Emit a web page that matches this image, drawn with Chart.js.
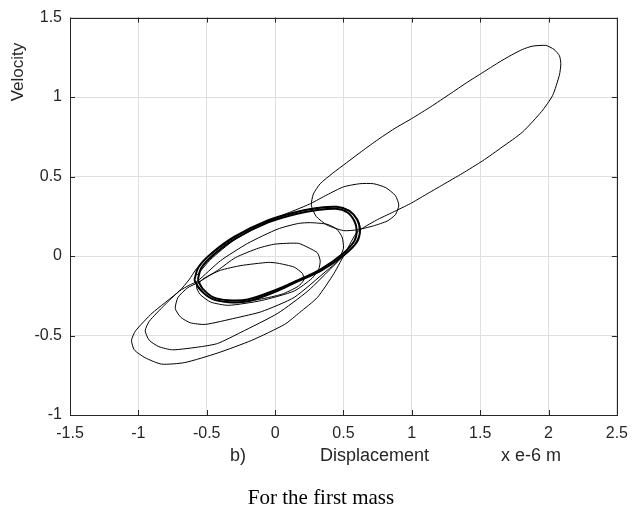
<!DOCTYPE html>
<html>
<head>
<meta charset="utf-8">
<script src="https://cdn.jsdelivr.net/npm/chart.js@4/dist/chart.umd.min.js"></script>
<style>
  html, body { margin: 0; padding: 0; background: #ffffff; }
  #wrap { width: 637px; height: 510px; }
</style>
</head>
<body>
<div id="wrap"><canvas id="phase" width="637" height="510"></canvas></div>
<script>
// Axis ticks
const xTicks = [-1.5, -1, -0.5, 0, 0.5, 1, 1.5, 2, 2.5];
const yTicks = [-1, -0.5, 0, 0.5, 1, 1.5];

// Transient part of the trajectory (displacement in 1e-6 m, velocity)
const transientDisp = [
  -0.57, -0.47, -0.30, -0.10, 0.02, 0.15, 0.26, 0.38, 0.50, 0.62, 0.72, 0.81, 0.88, 0.905, 0.88, 0.82, 0.72, 0.60, 0.50, 0.38, 0.30, 0.265,
  0.28, 0.33, 0.42, 0.52, 0.62, 0.74, 0.87, 1.00, 1.14, 1.28, 1.40, 1.52, 1.63, 1.73, 1.81, 1.88, 1.98, 2.04, 2.08, 2.09, 2.08, 2.03, 1.95, 1.81, 1.66, 1.52, 1.37, 1.23, 1.10, 0.99, 0.86, 0.74, 0.60,
  0.52, 0.43, 0.31, 0.18, 0.07, -0.17, -0.42, -0.66, -0.83, -0.95, -1.03, -1.05, -1.02, -0.90, -0.70, -0.63, -0.575, -0.47, -0.29, -0.05, 0.17, 0.32, 0.45, 0.55, 0.61, 0.625,
  0.58, 0.50, 0.43, 0.24, 0.02, -0.25, -0.42, -0.54, -0.75, -0.85, -0.92, -0.95, -0.92, -0.81, -0.70, -0.62,
  -0.57, -0.40, -0.20, 0.02, 0.17, 0.26, 0.38, 0.45, 0.49, 0.50, 0.46, 0.38,
  0.14, -0.10, -0.29, -0.51, -0.62, -0.69, -0.73, -0.71, -0.64, -0.56,
  -0.42, -0.29, -0.12, 0.00, 0.17, 0.25, 0.31, 0.33, 0.32, 0.27, 0.14, -0.10, -0.34, -0.47, -0.55, -0.575,
  -0.52, -0.40, -0.25, -0.05, 0.02, 0.14, 0.20, 0.21, 0.17, 0.05, -0.10, -0.25, -0.40, -0.50, -0.56
];
const transientVel = [
  -0.12, -0.02, 0.10, 0.195, 0.245, 0.29, 0.33, 0.385, 0.435, 0.455, 0.455, 0.43, 0.38, 0.32, 0.26, 0.22, 0.19, 0.165, 0.16, 0.195, 0.25, 0.32,
  0.39, 0.455, 0.52, 0.585, 0.65, 0.725, 0.80, 0.865, 0.94, 1.02, 1.09, 1.155, 1.215, 1.265, 1.30, 1.32, 1.325, 1.30, 1.26, 1.21, 1.14, 1.01, 0.91, 0.78, 0.685, 0.60, 0.52, 0.45, 0.385, 0.33, 0.275, 0.225, 0.15,
  0.03, -0.11, -0.26, -0.355, -0.43, -0.53, -0.61, -0.67, -0.68, -0.64, -0.59, -0.53, -0.47, -0.36, -0.22, -0.15, -0.08, 0.01, 0.12, 0.22, 0.28, 0.305, 0.31, 0.285, 0.22, 0.155,
  0.07, 0.00, -0.06, -0.22, -0.36, -0.48, -0.55, -0.57, -0.59, -0.57, -0.53, -0.47, -0.41, -0.31, -0.22, -0.18,
  -0.16, -0.03, 0.08, 0.17, 0.205, 0.21, 0.20, 0.17, 0.12, 0.05, -0.03, -0.09,
  -0.26, -0.35, -0.39, -0.43, -0.42, -0.385, -0.33, -0.26, -0.20, -0.165,
  -0.09, -0.01, 0.05, 0.075, 0.08, 0.05, 0.02, -0.03, -0.08, -0.14, -0.22, -0.28, -0.31, -0.29, -0.24, -0.19,
  -0.14, -0.09, -0.06, -0.04, -0.045, -0.07, -0.11, -0.15, -0.19, -0.24, -0.27, -0.29, -0.285, -0.25, -0.19
];

// Steady-state orbit: outer and inner strands of the settled cycle
const cycleOuterDisp = [-0.59, -0.56, -0.46, -0.30, -0.05, 0.17, 0.30, 0.45, 0.54, 0.60, 0.62, 0.60, 0.51, 0.34, 0.15, 0.00, -0.20, -0.34, -0.46, -0.55, -0.59];
const cycleOuterVel  = [-0.15, -0.07, 0.02, 0.12, 0.225, 0.28, 0.30, 0.31, 0.285, 0.23, 0.16, 0.09, 0.01, -0.09, -0.165, -0.225, -0.285, -0.29, -0.27, -0.21, -0.15];
const cycleInnerDisp = [-0.565, -0.54, -0.445, -0.29, -0.05, 0.17, 0.30, 0.445, 0.53, 0.58, 0.597, 0.58, 0.495, 0.33, 0.15, 0.00, -0.20, -0.34, -0.45, -0.53, -0.565];
const cycleInnerVel  = [-0.15, -0.075, 0.012, 0.11, 0.212, 0.268, 0.288, 0.297, 0.274, 0.22, 0.16, 0.095, 0.015, -0.085, -0.158, -0.215, -0.273, -0.278, -0.26, -0.205, -0.15];

const toPoints = (xs, ys) => xs.map((x, i) => ({ x: x, y: ys[i] }));

const FONT = '"Liberation Sans", Arial, sans-serif';
const SERIF = '"Liberation Serif", "Times New Roman", serif';
const INK = '#262626';

// Box frame with inward tick marks, plus axis captions
const framePlugin = {
  id: 'frame',
  afterDraw(chart) {
    const { ctx, chartArea: a, scales } = chart;
    ctx.save();
    ctx.strokeStyle = INK;
    ctx.lineWidth = 1;
    ctx.strokeRect(Math.round(a.left) + 0.5, Math.round(a.top) + 0.5, Math.round(a.right - a.left), Math.round(a.bottom - a.top));
    const tl = 5;
    ctx.beginPath();
    xTicks.forEach(v => {
      const px = Math.round(scales.x.getPixelForValue(v)) + 0.5;
      ctx.moveTo(px, a.bottom); ctx.lineTo(px, a.bottom - tl);
      ctx.moveTo(px, a.top); ctx.lineTo(px, a.top + tl);
    });
    yTicks.forEach(v => {
      const py = Math.round(scales.y.getPixelForValue(v)) + 0.5;
      ctx.moveTo(a.left, py); ctx.lineTo(a.left + tl, py);
      ctx.moveTo(a.right, py); ctx.lineTo(a.right - tl, py);
    });
    ctx.stroke();

    ctx.fillStyle = INK;
    ctx.textBaseline = 'alphabetic';
    ctx.textAlign = 'left';
    ctx.font = '18px ' + FONT;
    ctx.fillText('b)', 230, 461);
    ctx.fillText('Displacement', 320, 461);
    ctx.fillText('x e-6 m', 501, 461);

    ctx.save();
    ctx.translate(23, 72);
    ctx.rotate(-Math.PI / 2);
    ctx.textAlign = 'center';
    ctx.font = '17px ' + FONT;
    ctx.fillText('Velocity', 0, 0);
    ctx.restore();

    ctx.fillStyle = '#000';
    ctx.textAlign = 'center';
    ctx.font = '21px ' + SERIF;
    ctx.fillText('For the first mass', 321, 504);
    ctx.restore();
  }
};

new Chart(document.getElementById('phase'), {
  type: 'scatter',
  data: {
    datasets: [
      {
        data: toPoints(transientDisp, transientVel),
        showLine: true, borderColor: '#000', borderWidth: 1, pointRadius: 0, tension: 0.2, fill: false
      },
      {
        data: toPoints(cycleOuterDisp, cycleOuterVel),
        showLine: true, borderColor: '#000', borderWidth: 2, pointRadius: 0, tension: 0.35, fill: false
      },
      {
        data: toPoints(cycleInnerDisp, cycleInnerVel),
        showLine: true, borderColor: '#000', borderWidth: 2, pointRadius: 0, tension: 0.35, fill: false
      }
    ]
  },
  options: {
    responsive: false,
    animation: false,
    devicePixelRatio: 1,
    layout: { padding: { left: 0, top: 15, right: 14, bottom: 65 } },
    plugins: { legend: { display: false }, tooltip: { enabled: false }, title: { display: false } },
    scales: {
      x: {
        type: 'linear', min: -1.5, max: 2.5,
        afterBuildTicks: s => { s.ticks = xTicks.map(v => ({ value: v })); },
        afterFit: s => { s.height = 30; },
        grid: { color: '#dfdfdf', lineWidth: 1, drawTicks: false, tickLength: 0 },
        border: { display: false },
        ticks: { font: { family: FONT, size: 16 }, color: INK, padding: 9, maxRotation: 0, autoSkip: false,
                 callback: v => String(Number(v.toFixed(2))) }
      },
      y: {
        type: 'linear', min: -1, max: 1.5,
        afterBuildTicks: s => { s.ticks = yTicks.map(v => ({ value: v })); },
        afterFit: s => { s.width = 70; },
        grid: { color: '#dfdfdf', lineWidth: 1, drawTicks: false, tickLength: 0 },
        border: { display: false },
        ticks: { font: { family: FONT, size: 16 }, color: INK, padding: 8, autoSkip: false,
                 callback: v => String(Number(v.toFixed(2))) }
      }
    }
  },
  plugins: [framePlugin]
});
</script>
</body>
</html>
